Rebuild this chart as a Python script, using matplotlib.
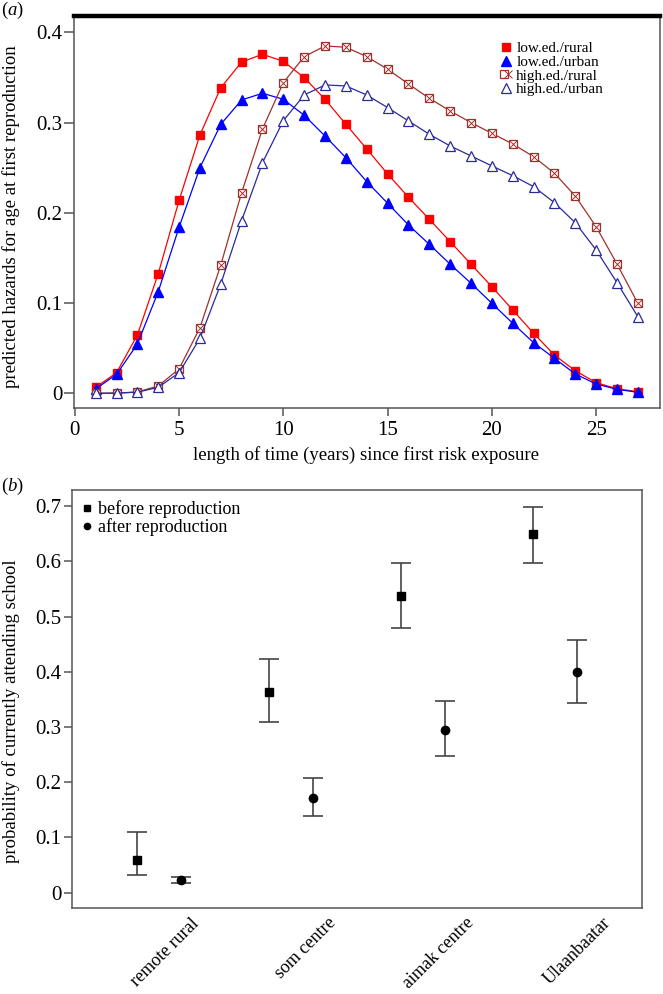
# plot.py
# Two-panel figure: (a) predicted hazards for age at first reproduction,
# (b) probability of currently attending school by residence.

import numpy as np
import matplotlib.pyplot as plt
from matplotlib.lines import Line2D
from matplotlib.legend_handler import HandlerTuple
from matplotlib.ticker import FuncFormatter

plt.rcParams['font.family'] = ['Liberation Serif', 'DejaVu Serif']
plt.rcParams['mathtext.fontset'] = 'custom'
plt.rcParams['mathtext.rm'] = 'Liberation Serif'
plt.rcParams['mathtext.it'] = 'Liberation Serif:italic'

# ---- panel (a) data ----
years = list(range(1, 28))
low_rural = [0.0066, 0.0228, 0.0646, 0.1325, 0.2138, 0.2862, 0.3386, 0.3670, 0.3756,
             0.3678, 0.3497, 0.3257, 0.2980, 0.2707, 0.2430, 0.2172, 0.1928, 0.1680,
             0.1430, 0.1181, 0.0923, 0.0665, 0.0424, 0.0250, 0.0118, 0.0050, 0.0018]
low_urban = [0.0048, 0.0210, 0.0546, 0.1126, 0.1840, 0.2500, 0.2980, 0.3250, 0.3324,
             0.3257, 0.3080, 0.2850, 0.2610, 0.2345, 0.2105, 0.1865, 0.1650, 0.1430,
             0.1219, 0.0997, 0.0776, 0.0561, 0.0388, 0.0214, 0.0103, 0.0044, 0.0011]
high_rural = [0.0000, 0.0002, 0.0015, 0.0081, 0.0270, 0.0727, 0.1422, 0.2223, 0.2929,
              0.3442, 0.3730, 0.3848, 0.3834, 0.3730, 0.3590, 0.3427, 0.3268, 0.3128,
              0.2999, 0.2880, 0.2762, 0.2622, 0.2438, 0.2186, 0.1846, 0.1433, 0.0997]
high_urban = [0.0000, 0.0002, 0.0012, 0.0066, 0.0228, 0.0609, 0.1211, 0.1913, 0.2555,
              0.3020, 0.3305, 0.3416, 0.3405, 0.3305, 0.3165, 0.3017, 0.2870, 0.2740,
              0.2630, 0.2519, 0.2411, 0.2290, 0.2112, 0.1890, 0.1588, 0.1226, 0.0849]
series_labels = ['low.ed./rural', 'low.ed./urban', 'high.ed./rural', 'high.ed./urban']

# ---- panel (b) data ----
places = ['remote rural', 'som centre', 'aimak centre', 'Ulaanbaatar']
before = [0.059, 0.364, 0.538, 0.649]
before_lo = [0.0315, 0.309, 0.479, 0.598]
before_hi = [0.1105, 0.424, 0.597, 0.698]
after = [0.0225, 0.171, 0.295, 0.399]
after_lo = [0.0176, 0.1395, 0.248, 0.343]
after_hi = [0.0285, 0.208, 0.347, 0.458]

RED = '#FF0000'
BLUE = '#0000FF'
BROWN = '#A0302C'
NAVY = '#2A2A9A'
GREY = '#555555'
FS = 13.5
TICK_FS = 15

W, H = 663, 994


def box(left, top, right, bottom):
    return [left / W, 1 - bottom / H, (right - left) / W, (bottom - top) / H]


def tick_fmt(v, pos):
    return '0' if abs(v) < 1e-9 else f'{v:.1f}'


def style_axes(ax):
    for s in ax.spines.values():
        s.set_color(GREY)
        s.set_linewidth(1.1)
    ax.tick_params(colors=GREY, labelcolor='black', labelsize=TICK_FS, width=1.1)


fig = plt.figure(figsize=(W / 100, H / 100), dpi=100)

# ---------------- panel (a) ----------------
ax1 = fig.add_axes(box(74, 16, 659.5, 408))
style_axes(ax1)
ax1.spines['top'].set_color('black')
ax1.spines['top'].set_linewidth(3.2)

ax1.plot(years, low_rural, color=RED, lw=0.9, marker='s', ms=5.8)
ax1.plot(years, low_urban, color=BLUE, lw=0.9, marker='^', ms=6.8)
ax1.plot(years, high_rural, color=BROWN, lw=0.9, marker='s', ms=6, mfc='white', mew=0.9)
ax1.plot(years, high_rural, ls='none', marker='x', ms=5.5, color=BROWN, mew=0.7)
ax1.plot(years, high_urban, color=NAVY, lw=0.9, marker='^', ms=7.5, mfc='white', mew=0.9)

ax1.set_xlim(-0.04, 28.04)
ax1.set_ylim(-0.0163, 0.418)
ax1.set_xticks([0, 5, 10, 15, 20, 25])
ax1.set_yticks([0, 0.1, 0.2, 0.3, 0.4])
ax1.yaxis.set_major_formatter(FuncFormatter(tick_fmt))
ax1.tick_params(axis='y', length=7, pad=1.5)
ax1.tick_params(axis='x', length=6, pad=3.5)

handles = [
    Line2D([], [], ls='none', marker='s', ms=5.5, color=RED),
    Line2D([], [], ls='none', marker='^', ms=6.5, color=BLUE),
    (Line2D([], [], ls='none', marker='s', ms=6, color=BROWN, mfc='white', mew=0.9),
     Line2D([], [], ls='none', marker='x', ms=5.5, color=BROWN, mew=0.7)),
    Line2D([], [], ls='none', marker='^', ms=7, color=NAVY, mfc='white', mew=0.9),
]
ax1.legend(handles, series_labels, handler_map={tuple: HandlerTuple(ndivide=None)},
           loc='upper left', bbox_to_anchor=(0.7298, 0.935), borderaxespad=0,
           borderpad=0, frameon=False, fontsize=11, handlelength=0.6,
           handletextpad=0.38, labelspacing=0.0)

# ---------------- panel (b) ----------------
ax2 = fig.add_axes(box(71.9, 490, 641.7, 907.7))
style_axes(ax2)

x = np.arange(len(places))
b = np.array(before)
a = np.array(after)
ax2.errorbar(x - 0.168, b, yerr=[b - np.array(before_lo), np.array(before_hi) - b],
             fmt='s', color='black', ms=5.5, ecolor='#444444', elinewidth=1.2,
             capsize=7.2, capthick=1.2)
ax2.errorbar(x + 0.168, a, yerr=[a - np.array(after_lo), np.array(after_hi) - a],
             fmt='o', color='black', ms=6, ecolor='#444444', elinewidth=1.2,
             capsize=7.2, capthick=1.2)

ax2.set_xlim(-0.658, 3.659)
ax2.set_ylim(-0.0272, 0.7295)
ax2.set_yticks(np.arange(0, 0.71, 0.1))
ax2.yaxis.set_major_formatter(FuncFormatter(tick_fmt))
ax2.tick_params(axis='y', length=6, pad=1.5)
ax2.set_xticks(0.24 + 1.04 * x)
ax2.set_xticklabels(places)
ax2.tick_params(axis='x', length=0, pad=5, labelsize=13)
plt.setp(ax2.get_xticklabels(), rotation=45, ha='right', va='top',
         rotation_mode='anchor')

leg_handles = [Line2D([], [], ls='none', marker='s', ms=4.5, color='black'),
               Line2D([], [], ls='none', marker='o', ms=4.5, color='black')]
ax2.legend(leg_handles, ['before reproduction', 'after reproduction'],
           loc='upper left', bbox_to_anchor=(0.0163, 0.975), borderaxespad=0,
           borderpad=0, frameon=False, fontsize=13, handlelength=0.6,
           handletextpad=0.33, labelspacing=0.0)

# ---------------- labels ----------------
fig.text(1 / W, 1 - 10 / H, r'($\mathit{a}$)', fontsize=FS, ha='left', va='center')
fig.text(1 / W, 1 - 486 / H, r'($\mathit{b}$)', fontsize=FS, ha='left', va='center')
fig.text(11 / W, 1 - 217 / H, 'predicted hazards for age at first reproduction',
         fontsize=FS, rotation=90, ha='center', va='center')
fig.text(11 / W, 1 - 711 / H, 'probability of currently attending school',
         fontsize=FS, rotation=90, ha='center', va='center')
fig.text(366 / W, 1 - 455 / H, 'length of time (years) since first risk exposure',
         fontsize=FS, ha='center', va='center')

fig.savefig('out.png', dpi=100)
